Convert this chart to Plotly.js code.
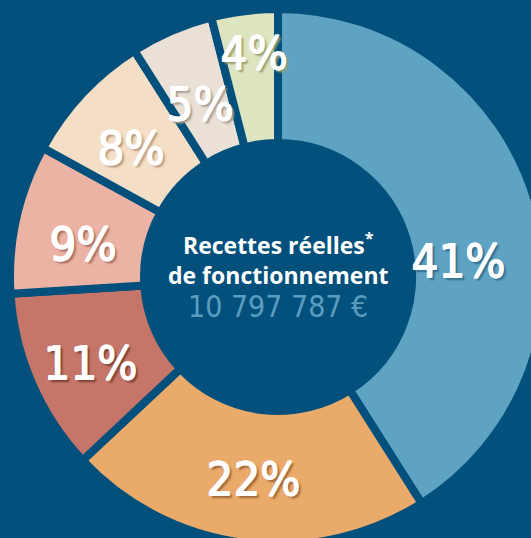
<!DOCTYPE html>
<html>
<head>
<meta charset="utf-8">
<script src="https://cdn.plot.ly/plotly-3.0.1.min.js"></script>
<style>
  html, body { margin: 0; padding: 0; width: 531px; height: 538px; overflow: hidden; background: #02507b; }
  #chart { position: absolute; left: 10px; top: 9px; width: 536px; height: 536px; }
</style>
</head>
<body>
<div id="chart"></div>
<script>
// ---- data ----
const categories = ['Part 1', 'Part 2', 'Part 3', 'Part 4', 'Part 5', 'Part 6', 'Part 7'];
const values = [41, 22, 11, 9, 8, 5, 4];
const centerTitle = ['Recettes réelles<sup>*</sup>', 'de fonctionnement'];
const centerAmount = '10 797 787 €';

// ---- style ----
const sliceColors = ['#5fa3c3', '#e9aa6a', '#c57669', '#ebb3a4', '#f4dfc6', '#eae0d6', '#dde4c0'];
const shadowColors = ['#2f6e8f', '#a0683a', '#7e4036', '#a87062', '#b89c80', '#a89c90', '#98a070'];
const labelRadius = [181, 203, 206, 198, 196, 191, 226];   // px from centre
const labelNudgeDeg = [11, 0, -1, -3, -2, -1, 1];
const bg = '#02507b';
const SIZE = 536;

const total = values.reduce((a, b) => a + b, 0);
let cum = 0;
const labelAnnotations = values.map((v, i) => {
  const mid = ((cum + v / 2) / total * 360 + labelNudgeDeg[i]) * Math.PI / 180;
  cum += v;
  const sh = shadowColors[i];
  return {
    xref: 'paper', yref: 'paper',
    x: 0.5 + labelRadius[i] * Math.sin(mid) / SIZE,
    y: 0.5 + labelRadius[i] * Math.cos(mid) / SIZE,
    xanchor: 'center', yanchor: 'middle',
    text: v + '%', showarrow: false,
    font: {
      family: 'DejaVu Sans Condensed, sans-serif', size: 47, color: '#ffffff',
      shadow: '1px 0 0 #ffffff, 0 1px 0 #ffffff, 1px 1px 0 #ffffff, 3px 3px 2px ' + sh
    }
  };
});

const trace = {
  type: 'pie',
  labels: categories,
  values: values,
  sort: false,
  direction: 'clockwise',
  rotation: 0,
  hole: 0.5,
  marker: { colors: sliceColors, line: { color: bg, width: 8 } },
  textinfo: 'none',
  hoverinfo: 'none',
  showlegend: false
};

const layout = {
  width: SIZE,
  height: SIZE,
  margin: { l: 0, r: 0, t: 0, b: 0, pad: 0 },
  paper_bgcolor: bg,
  plot_bgcolor: bg,
  showlegend: false,
  annotations: labelAnnotations.concat([
    {
      xref: 'paper', yref: 'paper', x: 0.5, y: 0.5, yshift: 18,
      text: centerTitle.join('<br>'), showarrow: false, align: 'center',
      font: { family: 'Open Sans, sans-serif', size: 23, color: '#ffffff', weight: 'bold' }
    },
    {
      xref: 'paper', yref: 'paper', x: 0.5, y: 0.5, yshift: -29,
      text: centerAmount, showarrow: false,
      font: { family: 'DejaVu Sans Condensed, sans-serif', size: 30, color: '#5b9dc0' }
    }
  ])
};

Plotly.newPlot('chart', [trace], layout, { displayModeBar: false, staticPlot: true });
</script>
</body>
</html>
